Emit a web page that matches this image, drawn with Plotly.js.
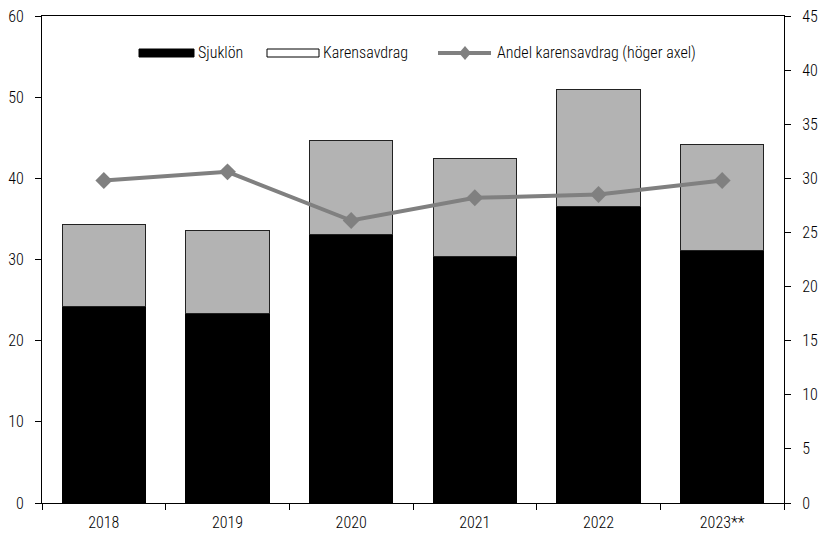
<!DOCTYPE html>
<html><head><meta charset="utf-8">
<script src="https://cdn.plot.ly/plotly-3.0.1.min.js"></script>
<style>html,body{margin:0;padding:0;background:#fff}</style>
</head><body>
<div id="chart" style="width:822px;height:535px"></div>
<script>
// ---- data ----
const years = ["2018", "2019", "2020", "2021", "2022", "2023**"];
const sjuklon = [24.2, 23.3, 33.1, 30.4, 36.5, 31.1];
const karensavdrag = [10.1, 10.3, 11.6, 12.0, 14.4, 13.1];
const andel = [29.8, 30.6, 26.1, 28.2, 28.5, 29.8];
const seriesNames = ["Sjuklön", "Karensavdrag", "Andel karensavdrag (höger axel)"];

// ---- pick an installed (preferably narrow) font ----
function fontAvailable(name) {
  const c = document.createElement("canvas").getContext("2d");
  const probe = "Andel karensavdrag (höger axel) 2018";
  c.font = "40px monospace"; const a = c.measureText(probe).width;
  c.font = "40px '" + name + "', monospace"; const b = c.measureText(probe).width;
  c.font = "40px serif"; const a2 = c.measureText(probe).width;
  c.font = "40px '" + name + "', serif"; const b2 = c.measureText(probe).width;
  return a !== b || a2 !== b2;
}
const candidates = ["Roboto Condensed", "Liberation Sans Narrow", "Arial Narrow", "DejaVu Sans Condensed", "Liberation Sans"];
let chosen = "DejaVu Sans";
for (const f of candidates) { if (fontAvailable(f)) { chosen = f; break; } }
const FONT = "'" + chosen + "', sans-serif";
const FS = 16, FW = 300;
// horizontal squeeze so the legend text width matches the original face
const cv = document.createElement("canvas").getContext("2d");
cv.font = FW + " " + FS + "px " + FONT;
let SQ = 209 / cv.measureText(seriesNames[2]).width;
if (SQ > 1) SQ = 1;

// ---- geometry ----
const W = 822, H = 535, M = {l: 42, r: 38, t: 16, b: 32};
const pw = W - M.l - M.r, ph = H - M.t - M.b;
const px = x => (x - M.l) / pw;           // pixel -> paper x
const py = y => (H - M.b - y) / ph;       // pixel -> paper y

const traces = [
  {type: "bar", name: seriesNames[0], x: years, y: sjuklon, showlegend: false,
   marker: {color: "#000000", line: {color: "#000000", width: 1}}},
  {type: "bar", name: seriesNames[1], x: years, y: karensavdrag, showlegend: false,
   marker: {color: "#b3b3b3", line: {color: "#222222", width: 1}}},
  {type: "scatter", mode: "lines+markers", name: seriesNames[2], showlegend: false,
   x: years, y: andel, yaxis: "y2",
   line: {color: "#808080", width: 4},
   marker: {symbol: "diamond", size: 13, color: "#808080"}}
];

// legend (drawn as layout decorations, Excel style)
const ly = 53;
const shapes = [
  {type: "rect", xref: "paper", yref: "paper", x0: px(139), x1: px(194), y0: py(57), y1: py(49),
   fillcolor: "#000", line: {color: "#000", width: 1}},
  {type: "rect", xref: "paper", yref: "paper", x0: px(267), x1: px(319), y0: py(57), y1: py(49),
   fillcolor: "#fff", line: {color: "#000", width: 1}},
  {type: "line", xref: "paper", yref: "paper", x0: px(438), x1: px(491), y0: py(ly), y1: py(ly),
   line: {color: "#808080", width: 4}},
  {type: "path", xref: "paper", yref: "paper",
   path: `M ${px(465)} ${py(ly - 7)} L ${px(471)} ${py(ly)} L ${px(465)} ${py(ly + 7)} L ${px(459)} ${py(ly)} Z`,
   fillcolor: "#808080", line: {color: "#808080", width: 0}}
];
const legX = [197, 322, 496];
const annotations = seriesNames.map((t, i) => ({
  text: t, xref: "paper", yref: "paper", x: px(legX[i]), y: py(ly), xanchor: "left", yanchor: "middle",
  showarrow: false, borderpad: 0, font: {family: FONT, size: FS, weight: FW, color: "#000"}
}));

const tf = {family: FONT, size: FS, weight: FW, color: "#000"};
const layout = {
  width: W, height: H, margin: M,
  paper_bgcolor: "#fff", plot_bgcolor: "#fff",
  font: tf,
  barmode: "stack", bargap: 0.327, showlegend: false,
  shapes: shapes, annotations: annotations,
  xaxis: {type: "category", showgrid: false, showline: true, linecolor: "#000", linewidth: 1,
          mirror: true, ticks: "outside", tickson: "boundaries", ticklen: 6, tickcolor: "#000",
          ticklabelstandoff: 5, tickfont: tf},
  yaxis: {range: [0, 60], dtick: 10, showgrid: false, showline: true, linecolor: "#000",
          linewidth: 1, ticks: "outside", ticklen: 6, tickcolor: "#000", zeroline: false,
          ticklabelstandoff: 8, tickfont: tf},
  yaxis2: {range: [0, 45], dtick: 5, overlaying: "y", side: "right", showgrid: false,
           showline: true, linecolor: "#000", linewidth: 1, ticks: "outside", ticklen: 6,
           tickcolor: "#000", zeroline: false, ticklabelstandoff: 8, tickfont: tf}
};

Plotly.newPlot("chart", traces, layout, {displayModeBar: false, staticPlot: true}).then(gd => {
  if (SQ >= 0.995) return;
  gd.querySelectorAll(".annotation text").forEach(t => {
    let bb; try { bb = t.getBBox(); } catch (e) { return; }
    if (!bb || bb.width === 0) return;
    const ax = bb.x;
    const prev = t.getAttribute("transform") || "";
    t.setAttribute("transform", `${prev} translate(${ax},0) scale(${SQ},1) translate(${-ax},0)`);
  });
});
</script>
</body></html>
